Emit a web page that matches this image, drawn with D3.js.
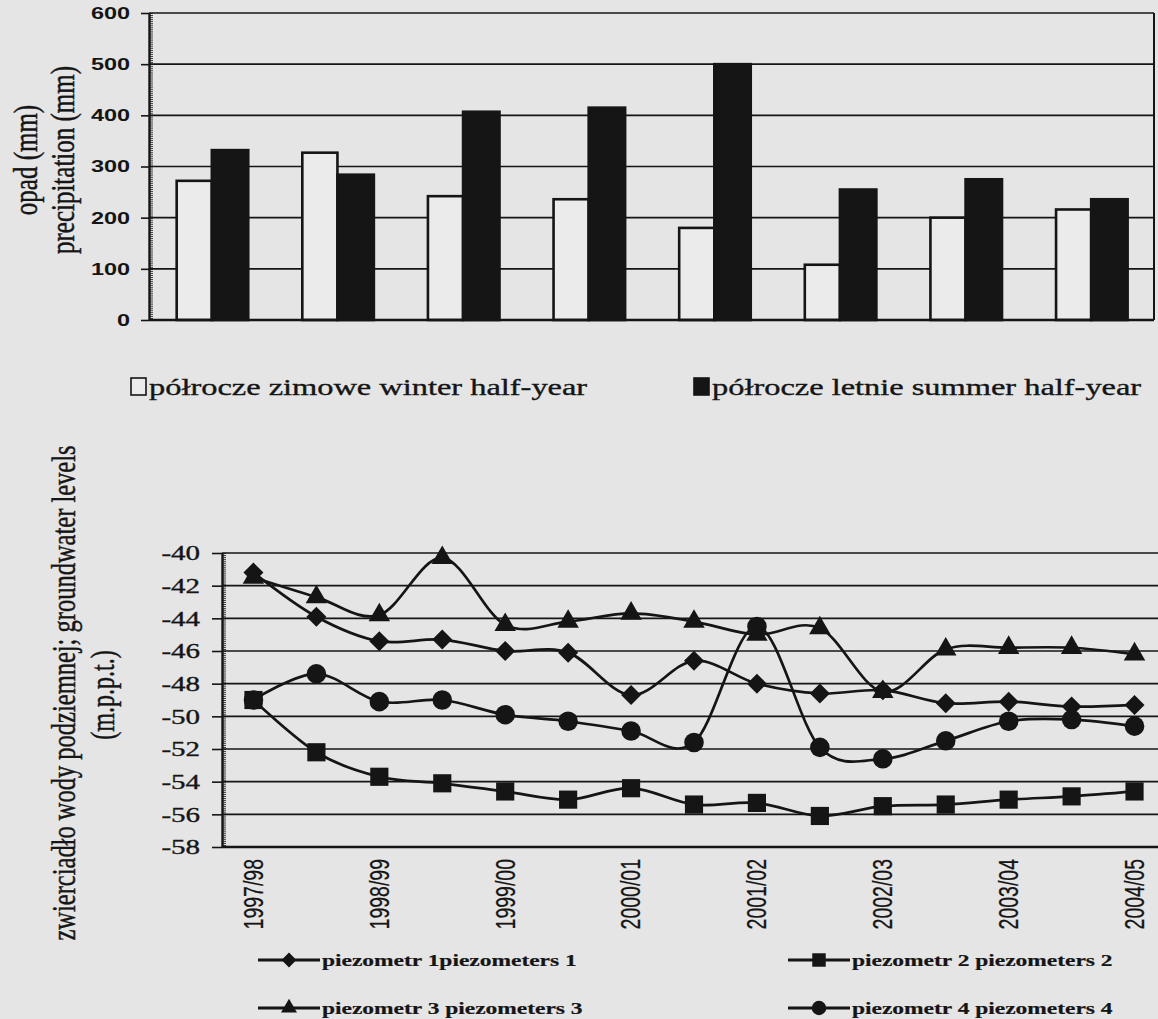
<!DOCTYPE html>
<html>
<head>
<meta charset="utf-8">
<script src="https://cdn.jsdelivr.net/npm/d3@7"></script>
<style>
  body { margin: 0; background: #e5e5e5; }
  svg { display: block; }
</style>
</head>
<body>
<div id="chart"></div>
<script>
// --- precipitation per half-year ---
const seasons = ["1997/98", "1998/99", "1999/00", "2000/01", "2001/02", "2002/03", "2003/04", "2004/05"];
const winterRain = [272, 327, 242, 236, 180, 108, 200, 216];
const summerRain = [332, 284, 407, 415, 500, 255, 275, 236];
const rainTicks = [0, 100, 200, 300, 400, 500, 600];

// --- groundwater levels, 15 readings, labelled every other one ---
const readingLabels = ["1997/98", "", "1998/99", "", "1999/00", "", "2000/01", "", "2001/02", "", "2002/03", "", "2003/04", "", "2004/05"];
const piezo1 = [-41.2, -43.9, -45.4, -45.3, -46.0, -46.1, -48.7, -46.6, -48.0, -48.6, -48.4, -49.2, -49.1, -49.4, -49.3];
const piezo2 = [-49.0, -52.2, -53.7, -54.1, -54.6, -55.1, -54.4, -55.4, -55.3, -56.1, -55.5, -55.4, -55.1, -54.9, -54.6];
const piezo3 = [-41.5, -42.7, -43.8, -40.3, -44.4, -44.2, -43.7, -44.2, -45.0, -44.6, -48.5, -45.9, -45.8, -45.8, -46.2];
const piezo4 = [-49.0, -47.4, -49.1, -49.0, -49.9, -50.3, -50.9, -51.6, -44.5, -51.9, -52.6, -51.5, -50.3, -50.2, -50.6];
const levelTicks = [-58, -56, -54, -52, -50, -48, -46, -44, -42, -40];

const W = 1158, H = 1019;
const S = 1.38;          // the scan is stretched sideways, text follows it
const ink = "#151515";
const serif = "'Liberation Serif', 'Times New Roman', serif";
const sans = "'Liberation Sans', Arial, sans-serif";

const svg = d3.select("#chart").append("svg")
  .attr("width", W)
  .attr("height", H);

svg.append("rect").attr("width", W).attr("height", H).attr("fill", "#e5e5e5");

function label(g, x, y, rot) {
  return g.append("text")
    .attr("transform", `translate(${x},${y}) scale(${S},1)` + (rot ? ` rotate(${rot})` : ""))
    .attr("fill", ink)
    .attr("stroke", ink)
    .attr("stroke-width", 0.35);
}

// ================= top: bar chart =================
const tp = { left: 149, right: 1154, top: 13, bottom: 320 };

const x0 = d3.scaleBand()
  .domain(seasons)
  .range([tp.left, tp.right])
  .paddingInner(0.42)
  .paddingOuter(0.21);

const x1 = d3.scaleBand()
  .domain(["winter", "summer"])
  .range([0, x0.bandwidth()]);

const y = d3.scaleLinear()
  .domain([0, 600])
  .range([tp.bottom, tp.top]);

const gTop = svg.append("g");

// grid + frame
gTop.selectAll(".grid")
  .data(rainTicks.slice(1))
  .join("line")
    .attr("x1", tp.left).attr("x2", tp.right)
    .attr("y1", d => y(d)).attr("y2", d => y(d))
    .attr("stroke", ink).attr("stroke-width", 1.6);

gTop.append("line")
  .attr("x1", tp.right).attr("x2", tp.right)
  .attr("y1", y(600)).attr("y2", y(0))
  .attr("stroke", ink).attr("stroke-width", 2);

const rainRows = seasons.map((s, i) => ({ season: s, winter: winterRain[i], summer: summerRain[i] }));

gTop.append("g")
  .selectAll("g")
  .data(rainRows)
  .join("g")
    .attr("transform", d => `translate(${x0(d.season)},0)`)
  .selectAll("rect")
  .data(d => ["winter", "summer"].map(key => ({ key, value: d[key] })))
  .join("rect")
    .attr("x", d => x1(d.key) + (d.key === "winter" ? 1.3 : 0))
    .attr("y", d => y(d.value))
    .attr("width", d => x1.bandwidth() - (d.key === "winter" ? 1.3 : 0))
    .attr("height", d => y(0) - y(d.value))
    .attr("fill", d => d.key === "winter" ? "#ebebeb" : ink)
    .attr("stroke", ink)
    .attr("stroke-width", 2.6);

// x axis line
gTop.append("line")
  .attr("x1", tp.left).attr("x2", tp.right)
  .attr("y1", y(0)).attr("y2", y(0))
  .attr("stroke", ink).attr("stroke-width", 2.4);

// y axis with hatched minor ticks
gTop.append("g")
  .attr("transform", `translate(${tp.left},0)`)
  .call(d3.axisRight(y).tickValues(d3.range(0, 601, 4)).tickSize(4).tickFormat(""))
  .call(g => g.select(".domain").remove())
  .call(g => g.selectAll("line").attr("stroke", ink).attr("stroke-width", 0.8));

const yAxisTop = gTop.append("g")
  .attr("transform", `translate(${tp.left},0)`)
  .call(d3.axisLeft(y).tickValues(rainTicks).tickSize(8).tickSizeOuter(0));

yAxisTop.select(".domain").attr("stroke", ink).attr("stroke-width", 2.4);
yAxisTop.selectAll(".tick line").attr("stroke", ink).attr("stroke-width", 1.6);
yAxisTop.selectAll(".tick text")
  .attr("transform", `scale(${S},1)`)
  .attr("x", -19 / S)
  .attr("fill", ink)
  .style("font-family", sans)
  .style("font-weight", "bold")
  .style("font-size", "17px");

// y title, two lines
label(gTop, 25, 160, -90)
  .attr("text-anchor", "middle").attr("dy", "0.35em")
  .style("font-family", serif).style("font-size", "25px")
  .text("opad (mm)");
label(gTop, 62, 160, -90)
  .attr("text-anchor", "middle").attr("dy", "0.35em")
  .style("font-family", serif).style("font-size", "25px")
  .text("precipitation (mm)");

// legend
const rainLegend = [
  { label: "półrocze zimowe winter half-year", fill: "#ebebeb", x: 131 },
  { label: "półrocze letnie summer half-year", fill: ink, x: 694 }
];
const rl = gTop.selectAll(".rl").data(rainLegend).join("g");
rl.append("rect")
  .attr("x", d => d.x).attr("y", 378).attr("width", 15).attr("height", 17)
  .attr("fill", d => d.fill).attr("stroke", ink).attr("stroke-width", 1.6);
rl.each(function (d) {
  label(d3.select(this), d.x + 18, 395)
    .style("font-family", serif).style("font-size", "23.5px")
    .text(d.label);
});

// ================= bottom: groundwater levels =================
const bt = { left: 222, right: 1166, top: 553, bottom: 847 };

const xb = d3.scaleBand()
  .domain(d3.range(readingLabels.length))
  .range([bt.left, bt.right]);

const yb = d3.scaleLinear()
  .domain([-58, -40])
  .range([bt.bottom, bt.top]);

const gBot = svg.append("g");

gBot.selectAll(".grid")
  .data(levelTicks.slice(1))
  .join("line")
    .attr("x1", bt.left).attr("x2", bt.right)
    .attr("y1", d => yb(d)).attr("y2", d => yb(d))
    .attr("stroke", ink).attr("stroke-width", 1.6);

gBot.append("line")
  .attr("x1", bt.left).attr("x2", bt.right)
  .attr("y1", yb(-58)).attr("y2", yb(-58))
  .attr("stroke", ink).attr("stroke-width", 2.4);

gBot.append("g")
  .attr("transform", `translate(${bt.left},0)`)
  .call(d3.axisRight(yb).tickValues(d3.range(-58, -39.9, 0.12)).tickSize(4).tickFormat(""))
  .call(g => g.select(".domain").remove())
  .call(g => g.selectAll("line").attr("stroke", ink).attr("stroke-width", 0.8));

const yAxisBot = gBot.append("g")
  .attr("transform", `translate(${bt.left},0)`)
  .call(d3.axisLeft(yb).tickValues(levelTicks).tickSize(10).tickSizeOuter(0)
    .tickFormat(d => String(d)));

yAxisBot.select(".domain").attr("stroke", ink).attr("stroke-width", 2.4);
yAxisBot.selectAll(".tick line").attr("stroke", ink).attr("stroke-width", 1.6);
yAxisBot.selectAll(".tick text")
  .attr("transform", `scale(${S},1)`)
  .attr("x", -22 / S)
  .attr("fill", ink)
  .attr("stroke", ink)
  .attr("stroke-width", 0.35)
  .style("font-family", serif)
  .style("font-size", "21px");

// category labels, rotated
readingLabels.forEach((t, i) => {
  if (!t) return;
  label(gBot, xb(i) + xb.bandwidth() / 2, 859, -90)
    .attr("text-anchor", "end").attr("dy", "0.35em")
    .attr("stroke-width", 0.2)
    .style("font-family", sans).style("font-size", "19.5px")
    .text(t);
});

// y title
label(gBot, 63, 693, -90)
  .attr("text-anchor", "middle").attr("dy", "0.35em")
  .style("font-family", serif).style("font-size", "24.5px")
  .text("zwierciadło wody podziemnej; groundwater levels");
label(gBot, 102, 695, -90)
  .attr("text-anchor", "middle").attr("dy", "0.35em")
  .style("font-family", serif).style("font-size", "24px")
  .text("(m.p.p.t.)");

const series = [
  { name: "piezometr 1piezometers 1", values: piezo1, type: d3.symbolSquare, size: 200, rot: 45 },
  { name: "piezometr 2 piezometers 2", values: piezo2, type: d3.symbolSquare, size: 330, rot: 0 },
  { name: "piezometr 3 piezometers 3", values: piezo3, type: d3.symbolTriangle, size: 200, rot: 0 },
  { name: "piezometr 4 piezometers 4", values: piezo4, type: d3.symbolCircle, size: 300, rot: 0 }
];

const cx = i => xb(i) + xb.bandwidth() / 2;

const line = d3.line()
  .x((d, i) => cx(i))
  .y(d => yb(d))
  .curve(d3.curveCardinal.tension(0));

const gLines = gBot.append("g");

series.forEach(s => {
  gLines.append("path")
    .datum(s.values)
    .attr("d", line)
    .attr("fill", "none")
    .attr("stroke", ink)
    .attr("stroke-width", 2.7);
});

series.forEach(s => {
  gLines.append("g")
    .selectAll("path")
    .data(s.values)
    .join("path")
      .attr("d", d3.symbol(s.type, s.size))
      .attr("transform", (d, i) => `translate(${cx(i)},${yb(d)}) rotate(${s.rot})`)
      .attr("fill", ink);
});

// legend, two rows of two
const legendPos = [
  { x: 258, y: 960 }, { x: 788, y: 960 },
  { x: 258, y: 1008 }, { x: 788, y: 1008 }
];

series.forEach((s, i) => {
  const p = legendPos[i];
  const g = gBot.append("g").attr("transform", `translate(${p.x},${p.y})`);
  g.append("line")
    .attr("x1", 0).attr("x2", 62)
    .attr("stroke", ink).attr("stroke-width", 3);
  g.append("path")
    .attr("d", d3.symbol(s.type, s.size * 0.55))
    .attr("transform", `translate(31,0) rotate(${s.rot})`)
    .attr("fill", ink);
  label(g, 64, 6)
    .style("font-family", serif).style("font-weight", "bold").style("font-size", "17px")
    .attr("stroke-width", 0.2)
    .text(s.name);
});
</script>
</body>
</html>
